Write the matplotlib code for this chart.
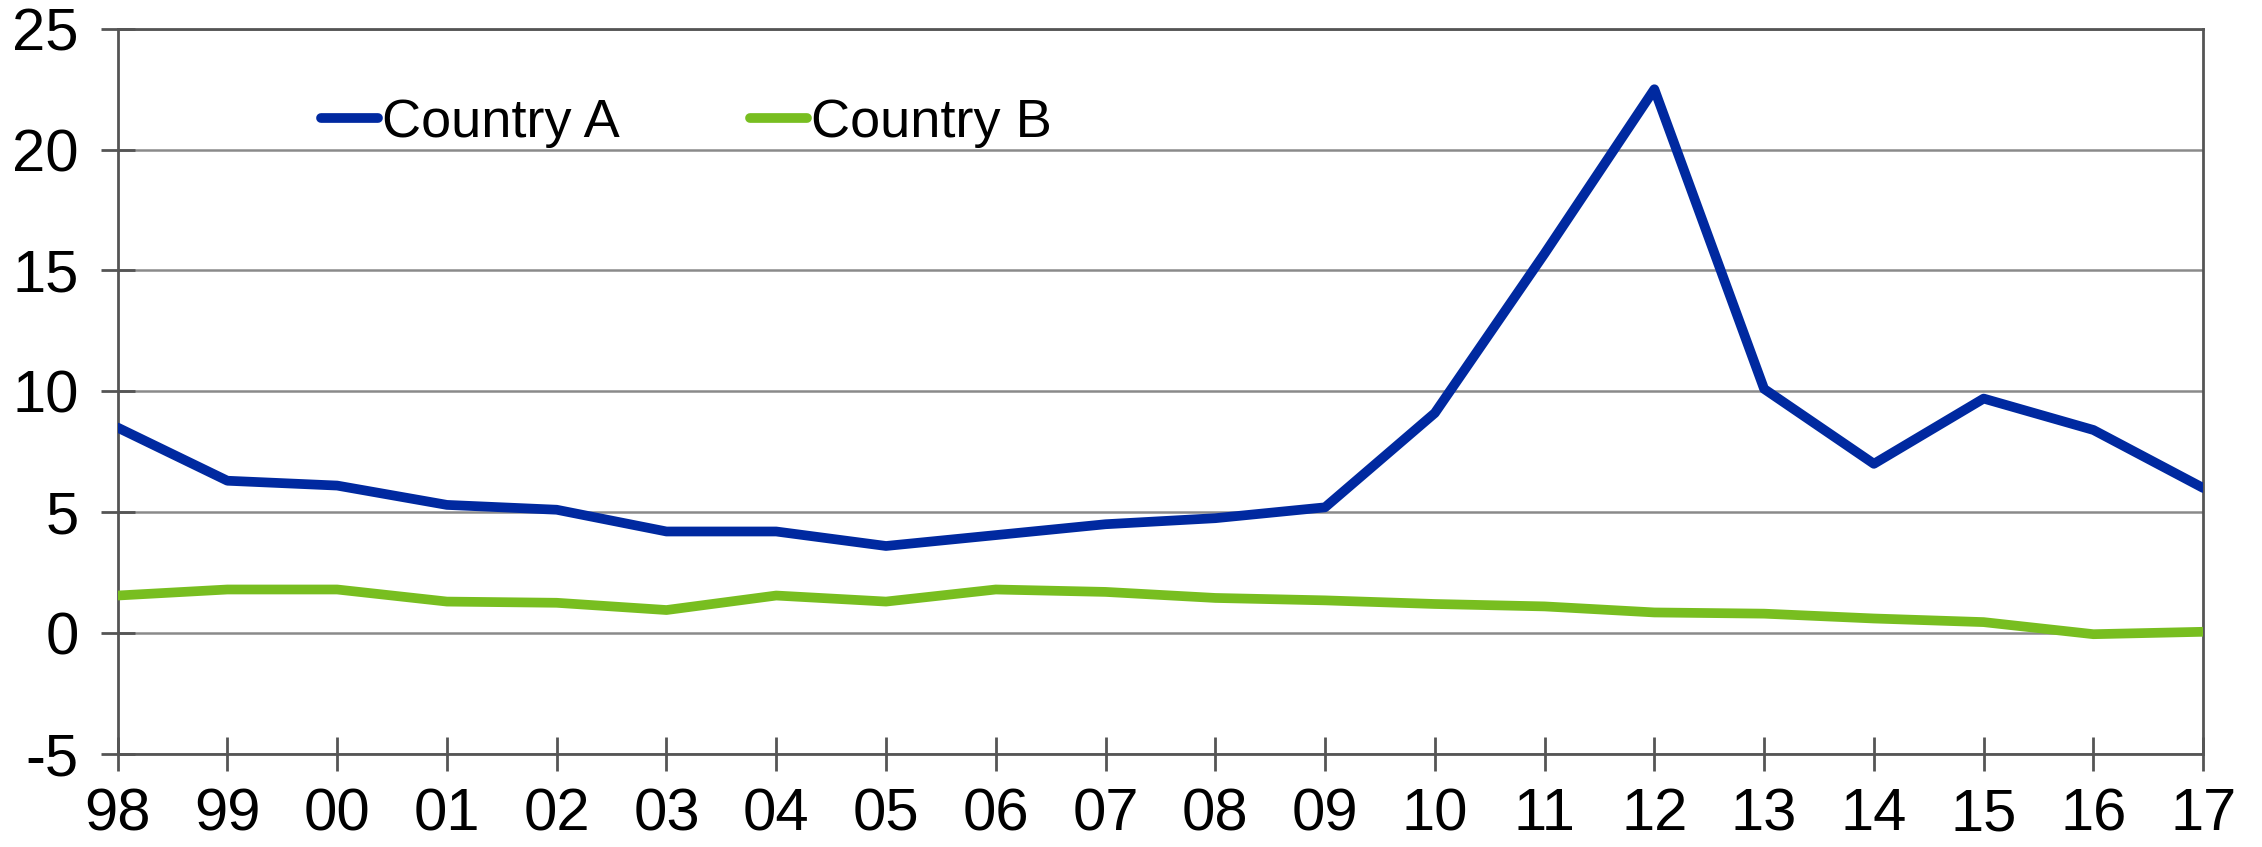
import matplotlib
matplotlib.use("Agg")
import matplotlib.pyplot as plt

plt.rcParams['font.family'] = ['Liberation Sans', 'DejaVu Sans']
plt.rcParams['axes.unicode_minus'] = False

years = ['98', '99', '00', '01', '02', '03', '04', '05', '06', '07',
         '08', '09', '10', '11', '12', '13', '14', '15', '16', '17']
country_a = [8.5, 6.3, 6.1, 5.3, 5.1, 4.2, 4.2, 3.6, 4.05, 4.5,
             4.75, 5.2, 9.1, 15.7, 22.5, 10.1, 7.0, 9.7, 8.4, 6.0]
country_b = [1.55, 1.8, 1.8, 1.3, 1.25, 0.95, 1.55, 1.3, 1.8, 1.7,
             1.45, 1.35, 1.2, 1.1, 0.85, 0.8, 0.6, 0.45, -0.05, 0.05]

fig = plt.figure(figsize=(22.62, 8.47), dpi=100)
ax = fig.add_axes([0.052, 0.110, 0.922, 0.856])

x = range(len(years))
ax.plot(x, country_a, color='#0029A0', lw=7, label='Country A', solid_capstyle='round', zorder=3)
ax.plot(x, country_b, color='#78BE20', lw=7, label='Country B', solid_capstyle='round', zorder=3)

ax.set_xlim(0, len(years) - 1)
ax.set_ylim(-5, 25)
ax.set_yticks(range(-5, 26, 5))
ax.set_xticks(list(x))
ax.set_xticklabels(years)

ax.grid(axis='y', color='#8a8a8a', lw=1.8, zorder=0)
for s in ax.spines.values():
    s.set_color('#555555')
    s.set_linewidth(2)
ax.tick_params(axis='both', direction='inout', length=24, width=2, color='#555555',
               labelsize=43)
ax.tick_params(axis='y', pad=16)
ax.tick_params(axis='x', pad=12)

leg = ax.legend(loc='upper left', bbox_to_anchor=(0.074, 0.972), ncol=2, frameon=False,
                fontsize=39, handlelength=1.05, handletextpad=0.08, columnspacing=2.4)

fig.savefig('out.png', dpi=100)
